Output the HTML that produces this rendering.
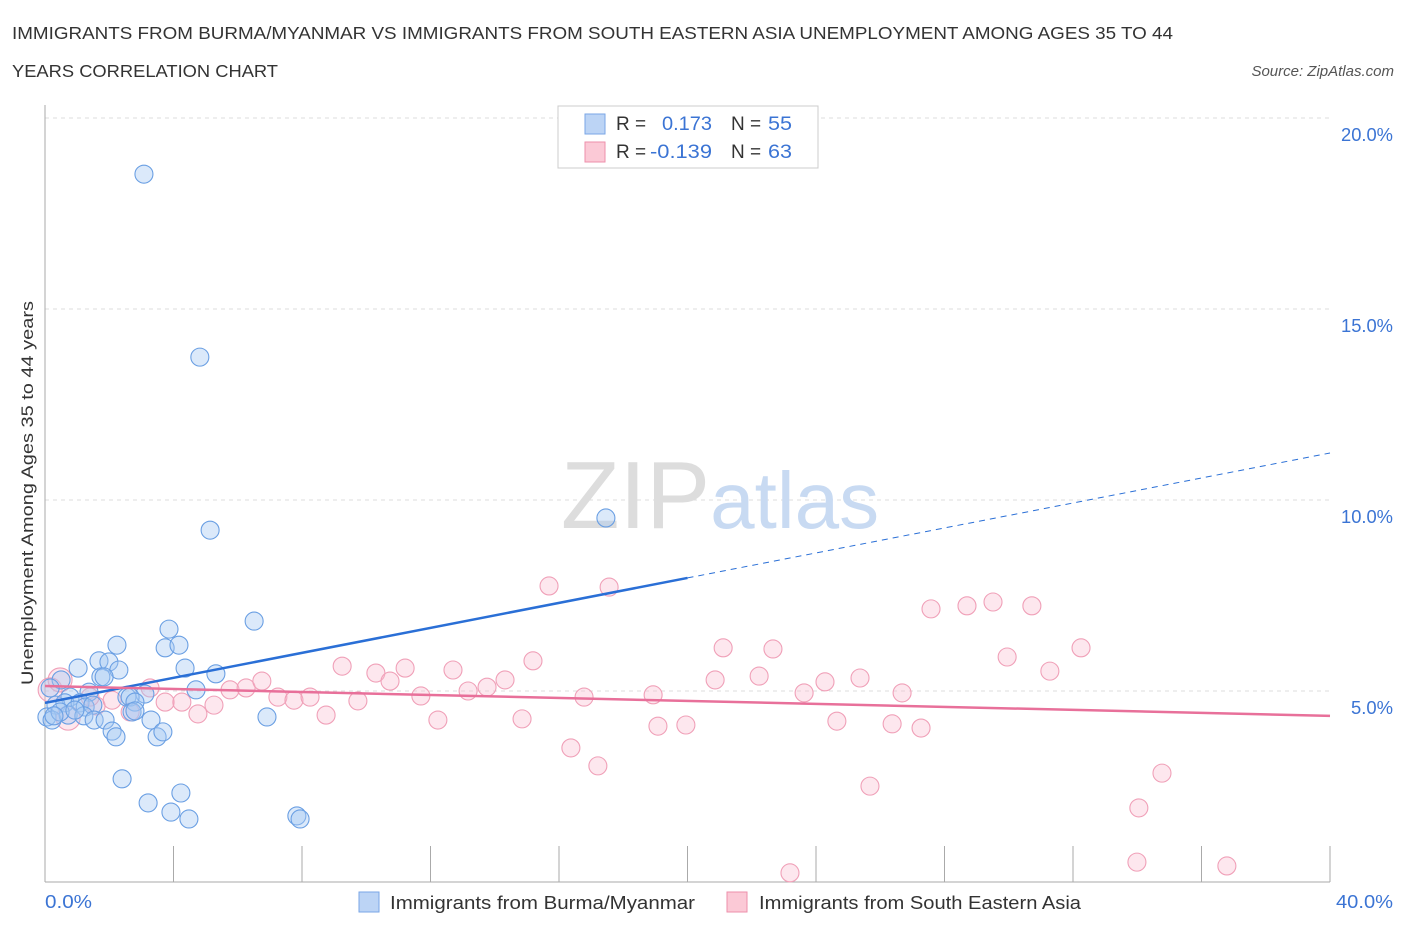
<!DOCTYPE html>
<html><head><meta charset="utf-8">
<style>
body{margin:0;background:#fff;font-family:"Liberation Sans",sans-serif;}
svg text{font-family:"Liberation Sans",sans-serif;}
</style></head>
<body>
<svg id="chart" width="1406" height="930" xmlns="http://www.w3.org/2000/svg">
<text x="12" y="39" font-size="17.5" fill="#333" textLength="1161" lengthAdjust="spacingAndGlyphs">IMMIGRANTS FROM BURMA/MYANMAR VS IMMIGRANTS FROM SOUTH EASTERN ASIA UNEMPLOYMENT AMONG AGES 35 TO 44</text>
<text x="12" y="77" font-size="17.5" fill="#333" textLength="266" lengthAdjust="spacingAndGlyphs">YEARS CORRELATION CHART</text>
<text x="1394" y="76" font-size="15" fill="#555" text-anchor="end" font-style="italic">Source: ZipAtlas.com</text>
<g id="grid"></g>
<g id="axes"></g>
<text x="720" y="528" font-size="96" text-anchor="middle" fill="#ddd" font-family="Liberation Serif">ZIP<tspan fill="#c8daf2" font-family="Liberation Sans" font-size="80">atlas</tspan></text>
<g id="points"></g>
<g id="trends"></g>
<text transform="translate(33,493) rotate(-90)" font-size="17" fill="#333" text-anchor="middle" textLength="384" lengthAdjust="spacingAndGlyphs">Unemployment Among Ages 35 to 44 years</text>
<g>
<rect x="558" y="106" width="260" height="62" fill="#fff" stroke="#ccc"/>
<rect x="585" y="114" width="20" height="20" fill="#bcd4f5" stroke="#7aa6e6"/>
<text x="616" y="130" font-size="19" fill="#333">R =</text>
<text x="662" y="130" font-size="19" fill="#3b74d4" textLength="50" lengthAdjust="spacingAndGlyphs">0.173</text>
<text x="731" y="130" font-size="19" fill="#333">N =</text>
<text x="768" y="130" font-size="19" fill="#3b74d4" textLength="24" lengthAdjust="spacingAndGlyphs">55</text>
<rect x="585" y="142" width="20" height="20" fill="#fbc9d6" stroke="#ee8fab"/>
<text x="616" y="158" font-size="19" fill="#333">R =</text>
<text x="650" y="158" font-size="19" fill="#3b74d4" textLength="62" lengthAdjust="spacingAndGlyphs">-0.139</text>
<text x="731" y="158" font-size="19" fill="#333">N =</text>
<text x="768" y="158" font-size="19" fill="#3b74d4" textLength="24" lengthAdjust="spacingAndGlyphs">63</text>
</g>
<g>
<rect x="359" y="892" width="20" height="20" fill="#bcd4f5" stroke="#7aa6e6"/>
<text x="390" y="909" font-size="18" fill="#333" textLength="305" lengthAdjust="spacingAndGlyphs">Immigrants from Burma/Myanmar</text>
<rect x="727" y="892" width="20" height="20" fill="#fbc9d6" stroke="#ee8fab"/>
<text x="759" y="909" font-size="18" fill="#333" textLength="322" lengthAdjust="spacingAndGlyphs">Immigrants from South Eastern Asia</text>
</g>
</svg>
<script>
const blueX=[3.08,4.82,5.14,17.46,6.51,3.86,2.24,3.74,4.17,1.68,1.99,1.03,2.30,4.36,5.32,0.50,1.74,1.84,0.16,1.37,4.70,2.55,3.11,2.65,2.80,0.78,0.34,0.62,1.09,1.25,1.49,0.06,0.22,0.72,1.21,1.53,1.87,2.71,3.30,2.09,2.21,3.49,3.67,6.91,2.40,3.21,4.23,3.92,4.48,7.84,7.94,0.47,0.93,2.80,0.28];
const blueY=[18.53,13.74,9.21,9.53,6.83,6.62,6.20,6.13,6.20,5.79,5.76,5.60,5.55,5.60,5.45,5.29,5.37,5.37,5.08,4.97,5.03,4.84,4.92,4.84,4.71,4.84,4.63,4.69,4.69,4.58,4.63,4.32,4.24,4.37,4.35,4.24,4.24,4.45,4.24,3.95,3.80,3.80,3.93,4.32,2.70,2.07,2.33,1.83,1.65,1.73,1.65,4.45,4.50,4.48,4.35];
const pinkX=[0.16,0.47,0.72,1.59,2.09,3.27,3.74,4.26,4.76,5.26,5.76,6.26,6.75,7.25,7.75,8.25,8.75,9.25,9.74,10.30,10.74,11.21,11.70,12.23,12.70,13.17,13.76,14.32,14.85,15.19,15.69,16.37,16.78,17.21,17.56,18.93,19.08,19.95,20.86,21.11,22.23,22.66,23.19,23.63,24.28,24.65,25.37,25.68,26.37,26.68,27.27,27.58,28.70,29.51,29.95,30.72,31.28,32.25,34.05,33.99,34.77,36.79,2.65,1.40];
const pinkY=[5.03,5.29,4.29,4.61,4.76,5.08,4.71,4.71,4.40,4.63,5.03,5.08,5.26,4.84,4.76,4.84,4.37,5.65,4.74,5.47,5.26,5.60,4.87,4.24,5.55,5.00,5.10,5.29,4.27,5.79,7.75,3.51,4.84,3.04,7.72,4.90,4.08,4.11,5.29,6.13,5.39,6.10,0.24,4.95,5.24,4.21,5.34,2.51,4.14,4.95,4.03,7.15,7.23,7.33,5.89,7.23,5.52,6.13,1.94,0.52,2.85,0.42,4.45,4.84];
const yTicks=[5,10,15,20];
const yTickLabels=["5.0%","10.0%","15.0%","20.0%"];
const xTicks=[0,4,8,12,16,20,24,28,32,36,40];
const blueTrend=[4.69,0.1635];
const pinkTrend=[5.13,-0.0195];
const X=v=>45+v*32.125, Y=v=>882-v*38.2;
const NS="http://www.w3.org/2000/svg";
function mk(p,t,a){const e=document.createElementNS(NS,t);for(const k in a)e.setAttribute(k,a[k]);p.appendChild(e);return e;}
const grid=document.getElementById('grid'),axes=document.getElementById('axes'),pts=document.getElementById('points'),tr=document.getElementById('trends');
yTicks.forEach((v,i)=>{
 const l=mk(grid,'line',{x1:45,x2:1330,y1:Y(v),y2:Y(v),stroke:'#ddd','stroke-dasharray':'4,4'});
 
 
 const t=mk(axes,'text',{x:1393,y:Y(v)+23,'font-size':18,fill:'#3b74d4','text-anchor':'end',textLength:(v<10?42:52),lengthAdjust:'spacingAndGlyphs'});
 t.textContent=yTickLabels[i];
 
 
});
mk(axes,'line',{x1:45,x2:45,y1:105,y2:882,stroke:'#aaa'});
mk(axes,'line',{x1:45,x2:1330,y1:882,y2:882,stroke:'#aaa'});
xTicks.forEach(v=>{
 const l=mk(axes,'line',{x1:X(v),x2:X(v),y1:846,y2:882,stroke:'#aaa'});
 
 
});
const xl0=mk(axes,'text',{x:45,y:908,'font-size':18,fill:'#3b74d4',textLength:47,lengthAdjust:'spacingAndGlyphs'});xl0.textContent='0.0%';


const xl1=mk(axes,'text',{x:1393,y:908,'font-size':18,fill:'#3b74d4','text-anchor':'end',textLength:57,lengthAdjust:'spacingAndGlyphs'});xl1.textContent='40.0%';


pinkX.forEach((v,i)=>{
 const c=mk(pts,'circle',{cx:X(v),cy:Y(pinkY[i]),r:(i<3?12:9),fill:'rgba(248,185,205,0.35)',stroke:'#f0a0b8','stroke-width':1.1});
 
 
});
blueX.forEach((v,i)=>{
 const c=mk(pts,'circle',{cx:X(v),cy:Y(blueY[i]),r:9,fill:'rgba(165,199,242,0.4)',stroke:'#6a9fe3','stroke-width':1.1});
 
 
});
const b1=mk(tr,'line',{x1:X(0),y1:Y(blueTrend[0]),x2:X(20),y2:Y(blueTrend[0]+blueTrend[1]*20),stroke:'#2a6fd6','stroke-width':2.5});


const b2=mk(tr,'line',{x1:X(20),y1:Y(blueTrend[0]+blueTrend[1]*20),x2:X(40),y2:Y(blueTrend[0]+blueTrend[1]*40),stroke:'#2a6fd6','stroke-width':1,'stroke-dasharray':'6,5'});


const p1=mk(tr,'line',{x1:X(0),y1:Y(pinkTrend[0]),x2:X(40),y2:Y(pinkTrend[0]+pinkTrend[1]*40),stroke:'#e8709a','stroke-width':2.5});


</script>
</body></html>
